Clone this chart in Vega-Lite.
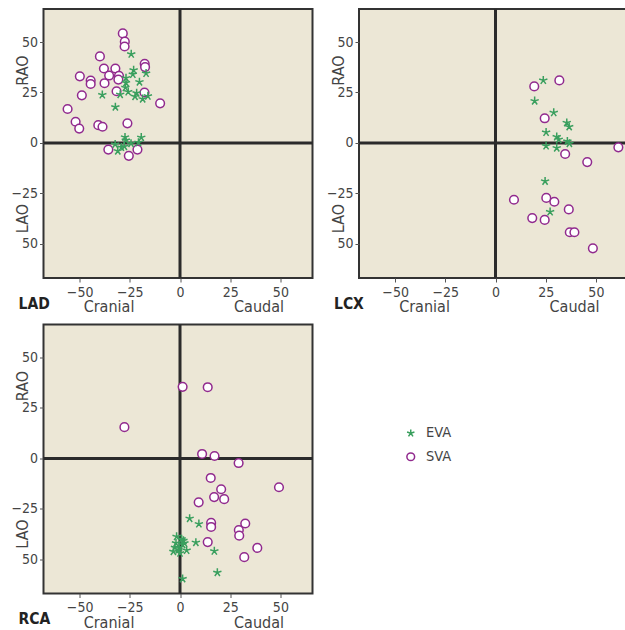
{
  "$schema": "https://vega.github.io/schema/vega-lite/v6.json",
  "padding": {"left": 9.5, "top": 6, "right": 5, "bottom": 5},
  "background": "white",
  "datasets": {
    "obs": [
      {"vessel": "LAD", "group": "SVA", "cc": -28.5, "rl": 54.3},
      {"vessel": "LAD", "group": "SVA", "cc": -27.5, "rl": 50.2},
      {"vessel": "LAD", "group": "SVA", "cc": -27.6, "rl": 47.8},
      {"vessel": "LAD", "group": "SVA", "cc": -39.9, "rl": 42.9},
      {"vessel": "LAD", "group": "SVA", "cc": -17.6, "rl": 39.2},
      {"vessel": "LAD", "group": "SVA", "cc": -17.4, "rl": 37.6},
      {"vessel": "LAD", "group": "SVA", "cc": -37.9, "rl": 36.9},
      {"vessel": "LAD", "group": "SVA", "cc": -32.2, "rl": 36.9},
      {"vessel": "LAD", "group": "SVA", "cc": -35.3, "rl": 33.4},
      {"vessel": "LAD", "group": "SVA", "cc": -30.4, "rl": 33.3},
      {"vessel": "LAD", "group": "SVA", "cc": -30.7, "rl": 31.4},
      {"vessel": "LAD", "group": "SVA", "cc": -49.9, "rl": 33.0},
      {"vessel": "LAD", "group": "SVA", "cc": -44.5, "rl": 30.9},
      {"vessel": "LAD", "group": "SVA", "cc": -44.5, "rl": 29.2},
      {"vessel": "LAD", "group": "SVA", "cc": -37.6, "rl": 29.6},
      {"vessel": "LAD", "group": "SVA", "cc": -31.6, "rl": 25.6},
      {"vessel": "LAD", "group": "SVA", "cc": -17.7, "rl": 25.0},
      {"vessel": "LAD", "group": "SVA", "cc": -48.9, "rl": 23.6},
      {"vessel": "LAD", "group": "SVA", "cc": -9.9, "rl": 19.6},
      {"vessel": "LAD", "group": "SVA", "cc": -56.0, "rl": 16.8},
      {"vessel": "LAD", "group": "SVA", "cc": -52.0, "rl": 10.5},
      {"vessel": "LAD", "group": "SVA", "cc": -50.2, "rl": 7.1},
      {"vessel": "LAD", "group": "SVA", "cc": -40.7, "rl": 8.8},
      {"vessel": "LAD", "group": "SVA", "cc": -38.6, "rl": 8.0},
      {"vessel": "LAD", "group": "SVA", "cc": -26.2, "rl": 9.7},
      {"vessel": "LAD", "group": "SVA", "cc": -35.7, "rl": -3.3},
      {"vessel": "LAD", "group": "SVA", "cc": -21.2, "rl": -3.3},
      {"vessel": "LAD", "group": "SVA", "cc": -25.5, "rl": -6.4},
      {"vessel": "LAD", "group": "EVA", "cc": -24.3, "rl": 44.0},
      {"vessel": "LAD", "group": "EVA", "cc": -23.1, "rl": 36.1},
      {"vessel": "LAD", "group": "EVA", "cc": -23.5, "rl": 34.0},
      {"vessel": "LAD", "group": "EVA", "cc": -26.9, "rl": 32.2},
      {"vessel": "LAD", "group": "EVA", "cc": -16.9, "rl": 34.5},
      {"vessel": "LAD", "group": "EVA", "cc": -26.9, "rl": 29.8},
      {"vessel": "LAD", "group": "EVA", "cc": -20.2, "rl": 30.2},
      {"vessel": "LAD", "group": "EVA", "cc": -27.2, "rl": 27.4},
      {"vessel": "LAD", "group": "EVA", "cc": -25.8, "rl": 25.3},
      {"vessel": "LAD", "group": "EVA", "cc": -38.7, "rl": 23.8},
      {"vessel": "LAD", "group": "EVA", "cc": -29.8, "rl": 24.0},
      {"vessel": "LAD", "group": "EVA", "cc": -21.6, "rl": 24.7},
      {"vessel": "LAD", "group": "EVA", "cc": -22.4, "rl": 23.0},
      {"vessel": "LAD", "group": "EVA", "cc": -18.6, "rl": 21.8},
      {"vessel": "LAD", "group": "EVA", "cc": -16.0, "rl": 23.2},
      {"vessel": "LAD", "group": "EVA", "cc": -32.2, "rl": 17.8},
      {"vessel": "LAD", "group": "EVA", "cc": -27.4, "rl": 2.8},
      {"vessel": "LAD", "group": "EVA", "cc": -19.3, "rl": 2.7},
      {"vessel": "LAD", "group": "EVA", "cc": -27.0, "rl": 1.3},
      {"vessel": "LAD", "group": "EVA", "cc": -32.3, "rl": -0.7},
      {"vessel": "LAD", "group": "EVA", "cc": -31.0, "rl": -4.0},
      {"vessel": "LAD", "group": "EVA", "cc": -27.7, "rl": -1.8},
      {"vessel": "LAD", "group": "EVA", "cc": -24.4, "rl": -0.3},
      {"vessel": "LAD", "group": "EVA", "cc": -20.7, "rl": 0.2},
      {"vessel": "LAD", "group": "EVA", "cc": -29.2, "rl": -2.2},
      {"vessel": "LCX", "group": "SVA", "cc": 31.8, "rl": 31.0},
      {"vessel": "LCX", "group": "SVA", "cc": 19.3, "rl": 28.0},
      {"vessel": "LCX", "group": "SVA", "cc": 24.5, "rl": 12.2},
      {"vessel": "LCX", "group": "SVA", "cc": 61.2, "rl": -2.2},
      {"vessel": "LCX", "group": "SVA", "cc": 34.7, "rl": -5.5},
      {"vessel": "LCX", "group": "SVA", "cc": 45.7, "rl": -9.5},
      {"vessel": "LCX", "group": "SVA", "cc": 9.2, "rl": -28.2},
      {"vessel": "LCX", "group": "SVA", "cc": 25.3, "rl": -27.3},
      {"vessel": "LCX", "group": "SVA", "cc": 29.3, "rl": -29.2},
      {"vessel": "LCX", "group": "SVA", "cc": 36.5, "rl": -33.0},
      {"vessel": "LCX", "group": "SVA", "cc": 18.3, "rl": -37.3},
      {"vessel": "LCX", "group": "SVA", "cc": 24.5, "rl": -38.2},
      {"vessel": "LCX", "group": "SVA", "cc": 37.0, "rl": -44.3},
      {"vessel": "LCX", "group": "SVA", "cc": 39.3, "rl": -44.3},
      {"vessel": "LCX", "group": "SVA", "cc": 48.5, "rl": -52.3},
      {"vessel": "LCX", "group": "EVA", "cc": 23.8, "rl": 31.0},
      {"vessel": "LCX", "group": "EVA", "cc": 19.5, "rl": 20.8},
      {"vessel": "LCX", "group": "EVA", "cc": 29.0, "rl": 15.0},
      {"vessel": "LCX", "group": "EVA", "cc": 35.5, "rl": 10.0},
      {"vessel": "LCX", "group": "EVA", "cc": 36.7, "rl": 8.0},
      {"vessel": "LCX", "group": "EVA", "cc": 25.2, "rl": 5.2},
      {"vessel": "LCX", "group": "EVA", "cc": 30.5, "rl": 3.0},
      {"vessel": "LCX", "group": "EVA", "cc": 31.5, "rl": 1.7},
      {"vessel": "LCX", "group": "EVA", "cc": 35.8, "rl": 0.8},
      {"vessel": "LCX", "group": "EVA", "cc": 36.8, "rl": -0.3},
      {"vessel": "LCX", "group": "EVA", "cc": 25.2, "rl": -1.5},
      {"vessel": "LCX", "group": "EVA", "cc": 30.5, "rl": -2.5},
      {"vessel": "LCX", "group": "EVA", "cc": 24.7, "rl": -19.0},
      {"vessel": "LCX", "group": "EVA", "cc": 27.2, "rl": -34.2},
      {"vessel": "RCA", "group": "SVA", "cc": 1.3, "rl": 35.5},
      {"vessel": "RCA", "group": "SVA", "cc": 13.8, "rl": 35.3},
      {"vessel": "RCA", "group": "SVA", "cc": -27.7, "rl": 15.5},
      {"vessel": "RCA", "group": "SVA", "cc": 11.0, "rl": 2.2},
      {"vessel": "RCA", "group": "SVA", "cc": 17.2, "rl": 1.2},
      {"vessel": "RCA", "group": "SVA", "cc": 29.2, "rl": -2.3},
      {"vessel": "RCA", "group": "SVA", "cc": 15.3, "rl": -9.7},
      {"vessel": "RCA", "group": "SVA", "cc": 49.3, "rl": -14.3},
      {"vessel": "RCA", "group": "SVA", "cc": 20.5, "rl": -15.3},
      {"vessel": "RCA", "group": "SVA", "cc": 17.0, "rl": -19.2},
      {"vessel": "RCA", "group": "SVA", "cc": 22.0, "rl": -20.2},
      {"vessel": "RCA", "group": "SVA", "cc": 9.3, "rl": -21.8},
      {"vessel": "RCA", "group": "SVA", "cc": 15.5, "rl": -32.0},
      {"vessel": "RCA", "group": "SVA", "cc": 15.5, "rl": -34.0},
      {"vessel": "RCA", "group": "SVA", "cc": 32.5, "rl": -32.3},
      {"vessel": "RCA", "group": "SVA", "cc": 29.3, "rl": -35.5},
      {"vessel": "RCA", "group": "SVA", "cc": 29.5, "rl": -38.3},
      {"vessel": "RCA", "group": "SVA", "cc": 13.8, "rl": -41.5},
      {"vessel": "RCA", "group": "SVA", "cc": 38.5, "rl": -44.4},
      {"vessel": "RCA", "group": "SVA", "cc": 32.0, "rl": -49.0},
      {"vessel": "RCA", "group": "EVA", "cc": 4.8, "rl": -29.8},
      {"vessel": "RCA", "group": "EVA", "cc": 9.4, "rl": -32.5},
      {"vessel": "RCA", "group": "EVA", "cc": 7.9, "rl": -41.7},
      {"vessel": "RCA", "group": "EVA", "cc": 17.1, "rl": -46.0},
      {"vessel": "RCA", "group": "EVA", "cc": 18.6, "rl": -56.6},
      {"vessel": "RCA", "group": "EVA", "cc": 1.3, "rl": -59.7},
      {"vessel": "RCA", "group": "EVA", "cc": -1.7, "rl": -38.8},
      {"vessel": "RCA", "group": "EVA", "cc": 1.7, "rl": -40.8},
      {"vessel": "RCA", "group": "EVA", "cc": -2.0, "rl": -42.0},
      {"vessel": "RCA", "group": "EVA", "cc": -0.3, "rl": -44.2},
      {"vessel": "RCA", "group": "EVA", "cc": 3.3, "rl": -45.6},
      {"vessel": "RCA", "group": "EVA", "cc": -3.3, "rl": -46.2},
      {"vessel": "RCA", "group": "EVA", "cc": 0.0, "rl": -47.0},
      {"vessel": "RCA", "group": "EVA", "cc": -0.8, "rl": -45.3},
      {"vessel": "RCA", "group": "EVA", "cc": 1.3, "rl": -42.8},
      {"vessel": "RCA", "group": "EVA", "cc": -2.5, "rl": -44.2},
      {"vessel": "RCA", "group": "EVA", "cc": 0.8, "rl": -40.0},
      {"vessel": "RCA", "group": "EVA", "cc": 2.2, "rl": -42.0}
    ],
    "zero": [{"origin": 0}]
  },
  "config": {
    "font": "DejaVu Sans Condensed, Roboto, sans-serif",
    "view": {"fill": "#ece7d6", "stroke": "#333333", "strokeWidth": 2},
    "axis": {
      "grid": false,
      "domain": false,
      "labelFont": "DejaVu Sans Condensed, Roboto, sans-serif",
      "labelFontSize": 14,
      "labelColor": "#444444",
      "tickColor": "#555555",
      "tickSize": 4,
      "titleFont": "DejaVu Sans Condensed, Roboto, sans-serif",
      "titleFontSize": 16,
      "titleFontWeight": "normal",
      "titleColor": "#444444"
    },
    "title": {"font": "DejaVu Sans Condensed, Roboto, sans-serif", "fontSize": 15.5, "fontWeight": "bold", "color": "#222222"},
    "legend": {"labelFont": "DejaVu Sans Condensed, Roboto, sans-serif", "labelFontSize": 14.5, "labelColor": "#444444"}
  },
  "concat": [
    {
      "width": 269, "height": 269,
      "title": {"text": "LAD", "orient": "bottom", "anchor": "start", "frame": "group", "baseline": "alphabetic", "offset": -6, "dx": -25},
      "layer": [
        {
          "data": {"name": "zero"},
          "mark": {"type": "rule", "color": "#2b2b2b", "strokeWidth": 3},
          "encoding": {"x": {"field": "origin", "type": "quantitative", "scale": {"domain": [-68, 66], "nice": false, "zero": false},
            "axis": {"orient": "bottom", "title": "Caudal", "labels": false, "ticks": false, "titleX": 215, "titleY": 33.5, "titleBaseline": "alphabetic", "titleAlign": "center"}}}
        },
        {
          "data": {"name": "zero"},
          "mark": {"type": "rule", "color": "#2b2b2b", "strokeWidth": 3},
          "encoding": {"y": {"field": "origin", "type": "quantitative", "scale": {"domain": [-67, 66.4], "nice": false, "zero": false},
            "axis": {"orient": "left", "title": "LAO", "labels": false, "ticks": false, "titleX": -21, "titleY": 209, "titleAngle": 270, "titleBaseline": "middle", "titleAlign": "center"}}}
        },
        {
          "data": {"name": "obs"},
          "transform": [{"filter": "datum.vessel == 'LAD'"}],
          "mark": {"type": "point", "filled": false, "fill": "white", "strokeWidth": 1.5, "size": 75, "opacity": 1},
          "encoding": {
            "x": {"field": "cc", "type": "quantitative", "scale": {"domain": [-68, 66], "nice": false, "zero": false},
              "axis": {"orient": "bottom", "values": [-50, -25, 0, 25, 50], "labelPadding": 3, "title": "Cranial", "titleX": 65, "titleY": 33.5, "titleBaseline": "alphabetic", "titleAlign": "center"}},
            "y": {"field": "rl", "type": "quantitative", "scale": {"domain": [-67, 66.4], "nice": false, "zero": false},
              "axis": {"orient": "left", "values": [-50, -25, 0, 25, 50], "labelPadding": 2, "labelExpr": "datum.value == -50 ? '50' : datum.label", "title": "RAO", "titleX": -21, "titleY": 61, "titleAngle": 270, "titleBaseline": "middle", "titleAlign": "center"}},
            "color": {"field": "group", "type": "nominal", "scale": {"domain": ["EVA", "SVA"], "range": ["#3a9f5e", "#912a8e"]},
              "legend": {"title": null, "orient": "none", "legendX": 360, "legendY": 417, "symbolSize": 60, "symbolStrokeWidth": 1.5, "labelOffset": 8, "rowPadding": 8.5}},
            "shape": {"field": "group", "type": "nominal", "scale": {"domain": ["EVA", "SVA"], "range": ["M0,0L0,-1M0,0L0.951,-0.309M0,0L0.588,0.809M0,0L-0.588,0.809M0,0L-0.951,-0.309", "circle"]}}
          }
        }
      ],
      "resolve": {"axis": {"x": "independent", "y": "independent"}}
    },
    {
      "width": 269, "height": 269,
      "title": {"text": "LCX", "orient": "bottom", "anchor": "start", "frame": "group", "baseline": "alphabetic", "offset": -6, "dx": -25},
      "layer": [
        {
          "data": {"name": "zero"},
          "mark": {"type": "rule", "color": "#2b2b2b", "strokeWidth": 3},
          "encoding": {"x": {"field": "origin", "type": "quantitative", "scale": {"domain": [-68, 66], "nice": false, "zero": false},
            "axis": {"orient": "bottom", "title": "Caudal", "labels": false, "ticks": false, "titleX": 215, "titleY": 33.5, "titleBaseline": "alphabetic", "titleAlign": "center"}}}
        },
        {
          "data": {"name": "zero"},
          "mark": {"type": "rule", "color": "#2b2b2b", "strokeWidth": 3},
          "encoding": {"y": {"field": "origin", "type": "quantitative", "scale": {"domain": [-67, 66.4], "nice": false, "zero": false},
            "axis": {"orient": "left", "title": "LAO", "labels": false, "ticks": false, "titleX": -21, "titleY": 209, "titleAngle": 270, "titleBaseline": "middle", "titleAlign": "center"}}}
        },
        {
          "data": {"name": "obs"},
          "transform": [{"filter": "datum.vessel == 'LCX'"}],
          "mark": {"type": "point", "filled": false, "fill": "white", "strokeWidth": 1.5, "size": 75, "opacity": 1},
          "encoding": {
            "x": {"field": "cc", "type": "quantitative", "scale": {"domain": [-68, 66], "nice": false, "zero": false},
              "axis": {"orient": "bottom", "values": [-50, -25, 0, 25, 50], "labelPadding": 3, "title": "Cranial", "titleX": 65, "titleY": 33.5, "titleBaseline": "alphabetic", "titleAlign": "center"}},
            "y": {"field": "rl", "type": "quantitative", "scale": {"domain": [-67, 66.4], "nice": false, "zero": false},
              "axis": {"orient": "left", "values": [-50, -25, 0, 25, 50], "labelPadding": 2, "labelExpr": "datum.value == -50 ? '50' : datum.label", "title": "RAO", "titleX": -21, "titleY": 61, "titleAngle": 270, "titleBaseline": "middle", "titleAlign": "center"}},
            "color": {"field": "group", "type": "nominal", "scale": {"domain": ["EVA", "SVA"], "range": ["#3a9f5e", "#912a8e"]}},
            "shape": {"field": "group", "type": "nominal", "scale": {"domain": ["EVA", "SVA"], "range": ["M0,0L0,-1M0,0L0.951,-0.309M0,0L0.588,0.809M0,0L-0.588,0.809M0,0L-0.951,-0.309", "circle"]}}
          }
        }
      ],
      "resolve": {"axis": {"x": "independent", "y": "independent"}}
    },
    {
      "width": 269, "height": 269,
      "title": {"text": "RCA", "orient": "bottom", "anchor": "start", "frame": "group", "baseline": "alphabetic", "offset": -6, "dx": -25},
      "layer": [
        {
          "data": {"name": "zero"},
          "mark": {"type": "rule", "color": "#2b2b2b", "strokeWidth": 3},
          "encoding": {"x": {"field": "origin", "type": "quantitative", "scale": {"domain": [-68, 66], "nice": false, "zero": false},
            "axis": {"orient": "bottom", "title": "Caudal", "labels": false, "ticks": false, "titleX": 215, "titleY": 33.5, "titleBaseline": "alphabetic", "titleAlign": "center"}}}
        },
        {
          "data": {"name": "zero"},
          "mark": {"type": "rule", "color": "#2b2b2b", "strokeWidth": 3},
          "encoding": {"y": {"field": "origin", "type": "quantitative", "scale": {"domain": [-67, 66.4], "nice": false, "zero": false},
            "axis": {"orient": "left", "title": "LAO", "labels": false, "ticks": false, "titleX": -21, "titleY": 209, "titleAngle": 270, "titleBaseline": "middle", "titleAlign": "center"}}}
        },
        {
          "data": {"name": "obs"},
          "transform": [{"filter": "datum.vessel == 'RCA'"}],
          "mark": {"type": "point", "filled": false, "fill": "white", "strokeWidth": 1.5, "size": 75, "opacity": 1},
          "encoding": {
            "x": {"field": "cc", "type": "quantitative", "scale": {"domain": [-68, 66], "nice": false, "zero": false},
              "axis": {"orient": "bottom", "values": [-50, -25, 0, 25, 50], "labelPadding": 3, "title": "Cranial", "titleX": 65, "titleY": 33.5, "titleBaseline": "alphabetic", "titleAlign": "center"}},
            "y": {"field": "rl", "type": "quantitative", "scale": {"domain": [-67, 66.4], "nice": false, "zero": false},
              "axis": {"orient": "left", "values": [-50, -25, 0, 25, 50], "labelPadding": 2, "labelExpr": "datum.value == -50 ? '50' : datum.label", "title": "RAO", "titleX": -21, "titleY": 61, "titleAngle": 270, "titleBaseline": "middle", "titleAlign": "center"}},
            "color": {"field": "group", "type": "nominal", "scale": {"domain": ["EVA", "SVA"], "range": ["#3a9f5e", "#912a8e"]}},
            "shape": {"field": "group", "type": "nominal", "scale": {"domain": ["EVA", "SVA"], "range": ["M0,0L0,-1M0,0L0.951,-0.309M0,0L0.588,0.809M0,0L-0.588,0.809M0,0L-0.951,-0.309", "circle"]}}
          }
        }
      ],
      "resolve": {"axis": {"x": "independent", "y": "independent"}}
    }
  ],
  "columns": 2,
  "spacing": 46.5,
  "bounds": "flush"
}
